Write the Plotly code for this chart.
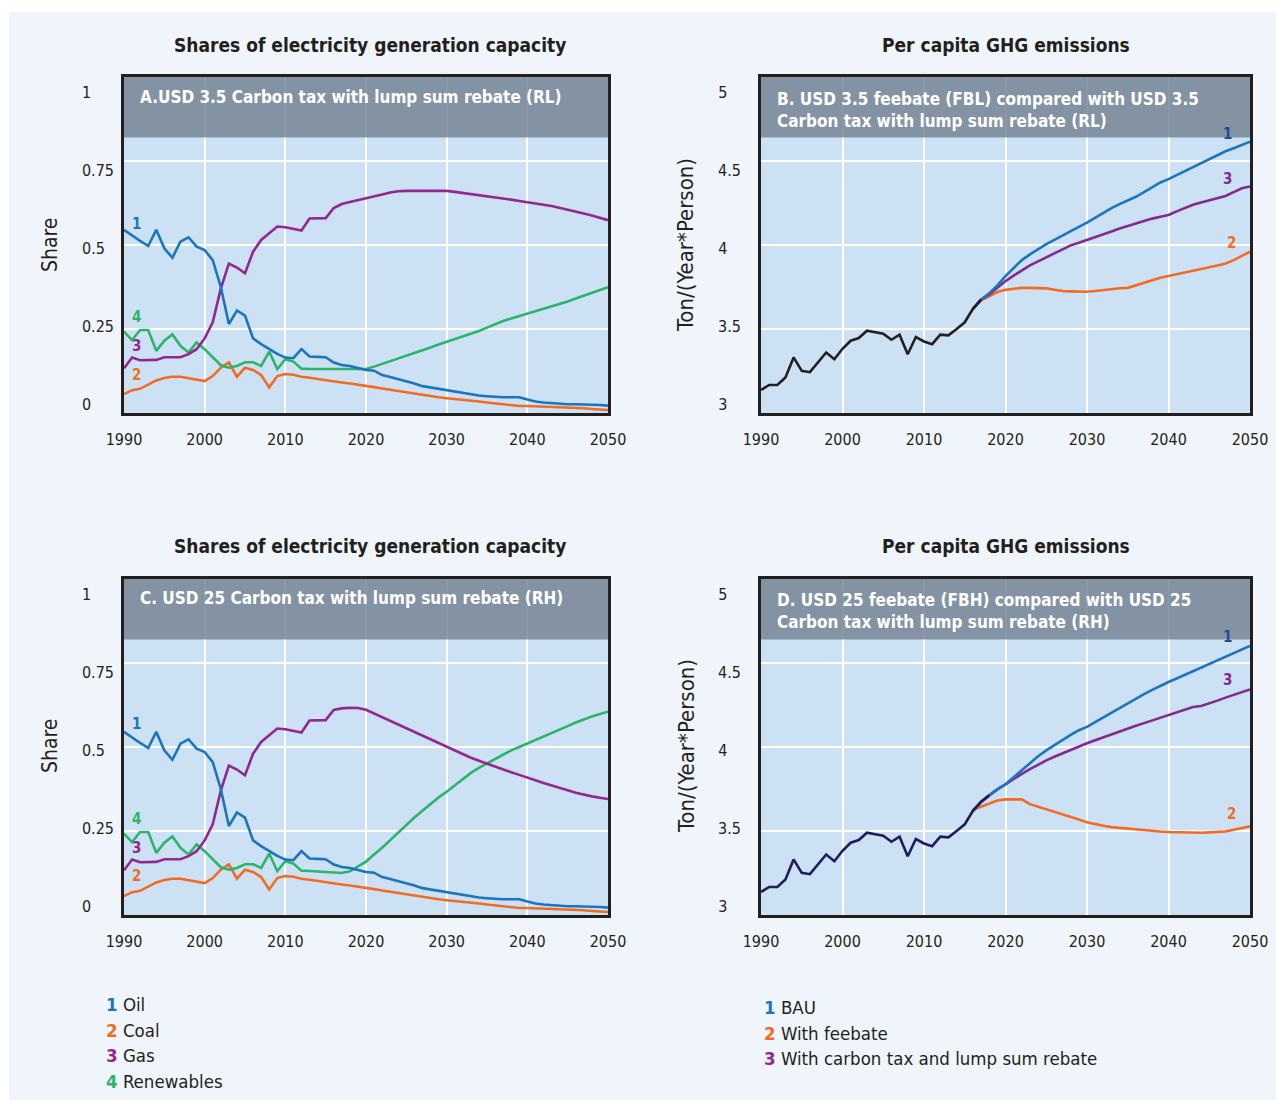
import plotly.graph_objects as go

W, H = 1276, 1100
FONT = "Liberation Sans Narrow, Arial Narrow, DejaVu Sans Condensed, sans-serif"
INK = "#231F20"

# ---------------- data ----------------
years = list(range(1990, 2051))
year_ticks = [1990, 2000, 2010, 2020, 2030, 2040, 2050]

oil_A = [0.545, 0.528, 0.512, 0.497, 0.545, 0.490, 0.462, 0.510, 0.523, 0.495,
         0.485, 0.455, 0.375, 0.265, 0.305, 0.290, 0.222, 0.205, 0.190, 0.176,
         0.165, 0.163, 0.190, 0.168, 0.167, 0.166, 0.150, 0.143, 0.140, 0.134,
         0.128, 0.126, 0.113, 0.107, 0.101, 0.095, 0.088, 0.080, 0.076, 0.072,
         0.068, 0.064, 0.059, 0.055, 0.052, 0.050, 0.048, 0.047, 0.047, 0.047,
         0.040, 0.034, 0.031, 0.029, 0.027, 0.026, 0.026, 0.026, 0.025, 0.024,
         0.022]
coal_A = [0.056, 0.068, 0.072, 0.085, 0.097, 0.104, 0.108, 0.108, 0.103, 0.098,
          0.095, 0.110, 0.135, 0.151, 0.108, 0.135, 0.128, 0.113, 0.076, 0.110,
          0.116, 0.114, 0.108, 0.105, 0.101, 0.098, 0.095, 0.091, 0.088, 0.085,
          0.081, 0.077, 0.073, 0.069, 0.065, 0.061, 0.057, 0.053, 0.050, 0.047,
          0.044, 0.042, 0.039, 0.037, 0.034, 0.031, 0.028, 0.026, 0.023, 0.021,
          0.021, 0.020, 0.020, 0.019, 0.019, 0.017, 0.016, 0.014, 0.012, 0.011,
          0.009]
gas_A = [0.133, 0.165, 0.157, 0.157, 0.158, 0.166, 0.166, 0.166, 0.175, 0.190,
         0.222, 0.270, 0.370, 0.445, 0.433, 0.416, 0.480, 0.515, 0.535, 0.555,
         0.553, 0.548, 0.543, 0.579, 0.579, 0.580, 0.610, 0.622, 0.628, 0.633,
         0.638, 0.644, 0.650, 0.656, 0.660, 0.661, 0.661, 0.661, 0.661, 0.661,
         0.661, 0.658, 0.655, 0.652, 0.649, 0.645, 0.642, 0.638, 0.635, 0.631,
         0.628, 0.624, 0.620, 0.616, 0.611, 0.606, 0.600, 0.594, 0.588, 0.581,
         0.574]
ren_A = [0.242, 0.217, 0.247, 0.247, 0.185, 0.215, 0.234, 0.200, 0.180, 0.210,
         0.190, 0.165, 0.142, 0.135, 0.140, 0.151, 0.151, 0.140, 0.183, 0.131,
         0.160, 0.153, 0.132, 0.131, 0.131, 0.131, 0.131, 0.131, 0.131, 0.131,
         0.131, 0.138, 0.146, 0.154, 0.162, 0.170, 0.177, 0.185, 0.195, 0.204,
         0.212, 0.220, 0.228, 0.235, 0.244, 0.254, 0.264, 0.274, 0.281, 0.288,
         0.295, 0.302, 0.309, 0.316, 0.323, 0.332, 0.341, 0.350, 0.358, 0.366,
         0.374]

oil_C = list(oil_A)
coal_C = list(coal_A)
gas_C = gas_A[:26] + [0.610, 0.615, 0.617, 0.616, 0.611, 0.600, 0.589, 0.578, 0.567,
                      0.556, 0.544, 0.533, 0.521, 0.510, 0.499, 0.488, 0.478, 0.468,
                      0.459, 0.450, 0.442, 0.433, 0.425, 0.417, 0.410, 0.401, 0.393,
                      0.385, 0.378, 0.371, 0.364, 0.358, 0.353, 0.349, 0.345]
ren_C = ren_A[:23] + [0.131, 0.129, 0.127, 0.126, 0.125, 0.130, 0.145, 0.159, 0.180,
                      0.200, 0.223, 0.246, 0.268, 0.290, 0.310, 0.330, 0.350, 0.367,
                      0.386, 0.405, 0.423, 0.438, 0.451, 0.465, 0.478, 0.490, 0.500,
                      0.510, 0.520, 0.531, 0.541, 0.552, 0.562, 0.573, 0.583, 0.591,
                      0.598, 0.605]

hist_years = list(range(1990, 2019))
ghg_hist = [3.137, 3.167, 3.167, 3.211, 3.331, 3.251, 3.243, 3.303, 3.360, 3.320,
            3.382, 3.430, 3.446, 3.490, 3.482, 3.472, 3.436, 3.466, 3.350, 3.452,
            3.426, 3.410, 3.466, 3.462, 3.500, 3.540, 3.620, 3.675, 3.712]

scen_years = list(range(2016, 2051))
bau_B = [3.620, 3.675, 3.712, 3.760, 3.815, 3.865, 3.910, 3.944, 3.975, 4.005,
         4.030, 4.057, 4.080, 4.108, 4.133, 4.163, 4.195, 4.220, 4.243, 4.265,
         4.287, 4.315, 4.345, 4.372, 4.392, 4.416, 4.440, 4.462, 4.487, 4.512,
         4.537, 4.558, 4.576, 4.595, 4.615]
fb_B = [3.620, 3.670, 3.695, 3.720, 3.733, 3.740, 3.745, 3.745, 3.745, 3.742,
        3.734, 3.726, 3.724, 3.722, 3.722, 3.726, 3.732, 3.738, 3.743, 3.745,
        3.760, 3.778, 3.793, 3.805, 3.815, 3.825, 3.836, 3.846, 3.856, 3.867,
        3.878, 3.890, 3.910, 3.935, 3.960]
ct_B = [3.620, 3.675, 3.705, 3.748, 3.785, 3.818, 3.850, 3.879, 3.903, 3.927,
        3.950, 3.975, 3.998, 4.014, 4.030, 4.045, 4.062, 4.080, 4.098, 4.113,
        4.128, 4.143, 4.157, 4.168, 4.179, 4.200, 4.222, 4.240, 4.253, 4.265,
        4.278, 4.292, 4.315, 4.338, 4.348]
bau_D = [3.620, 3.672, 3.712, 3.748, 3.778, 3.820, 3.860, 3.905, 3.945, 3.980,
         4.012, 4.043, 4.072, 4.100, 4.120, 4.148, 4.176, 4.205, 4.232, 4.260,
         4.290, 4.315, 4.340, 4.365, 4.387, 4.408, 4.430, 4.450, 4.470, 4.492,
         4.515, 4.538, 4.560, 4.582, 4.602]
fb_D = [3.627, 3.645, 3.665, 3.682, 3.688, 3.690, 3.688, 3.660, 3.645, 3.632,
        3.616, 3.600, 3.586, 3.568, 3.552, 3.540, 3.531, 3.523, 3.518, 3.514,
        3.510, 3.506, 3.501, 3.497, 3.494, 3.492, 3.490, 3.488, 3.490, 3.492,
        3.494, 3.497, 3.508, 3.518, 3.528]
ct_D = [3.620, 3.672, 3.712, 3.748, 3.778, 3.810, 3.840, 3.868, 3.895, 3.920,
        3.942, 3.963, 3.983, 4.003, 4.022, 4.040, 4.058, 4.076, 4.093, 4.110,
        4.126, 4.142, 4.158, 4.173, 4.188, 4.205, 4.222, 4.238, 4.244, 4.258,
        4.276, 4.294, 4.310, 4.327, 4.343]

share_ticks = [0, 0.25, 0.5, 0.75, 1]
share_text = ["0", "0.25", "0.5", "0.75", "1"]
ghg_ticks = [3, 3.5, 4, 4.5, 5]
ghg_text = ["3", "3.5", "4", "4.5", "5"]

fuel_names = ["Oil", "Coal", "Gas", "Renewables"]
scen_names = ["BAU", "With feebate", "With carbon tax and lump sum rebate"]

titles_left = "Shares of electricity generation capacity"
titles_right = "Per capita GHG emissions"
header_A = "A.USD 3.5 Carbon tax with lump sum rebate (RL)"
header_B = "B. USD 3.5 feebate (FBL) compared with USD 3.5<br>Carbon tax with lump sum rebate (RL)"
header_C = "C. USD 25 Carbon tax with lump sum rebate (RH)"
header_D = "D. USD 25 feebate (FBH) compared with USD 25<br>Carbon tax with lump sum rebate (RH)"

# ---------------- style ----------------
C_OIL, C_COAL, C_GAS, C_REN = "#1C75BC", "#F26B21", "#92278F", "#2EB36B"
C_BAU, C_FB, C_CT = "#1C75BC", "#F26B21", "#822A8E"
C_HIST_B, C_HIST_D = "#231F20", "#221A5C"
PLOT_BG = "#CCE2F4"
PAGE_BG = "#EFF5FA"
HEADER = "rgba(116,129,147,0.82)"
LW = 2.6

# pixel boxes in page coordinates (left, top, right, bottom)
boxes = {1: (124, 77, 608, 413), 2: (761, 77, 1250, 413),
         3: (124, 579, 608, 915), 4: (761, 579, 1250, 915)}
LABEL_SHIFT, LABEL_SPAN, PLOT_PX = 9, 312, 336


def px(x):
    return x / W


def py(y):
    return 1 - y / H


fig = go.Figure()


def add(x, y, color, n, width=LW):
    fig.add_trace(go.Scatter(x=x, y=y, mode="lines",
                             line=dict(color=color, width=width),
                             xaxis="x" if n == 1 else f"x{n}",
                             yaxis="y" if n == 1 else f"y{n}",
                             showlegend=False, hoverinfo="skip"))


# panel A
add(years, coal_A, C_COAL, 1)
add(years, ren_A, C_REN, 1)
add(years, gas_A, C_GAS, 1)
add(years, oil_A, C_OIL, 1)
# panel C
add(years, coal_C, C_COAL, 3)
add(years, ren_C, C_REN, 3)
add(years, gas_C, C_GAS, 3)
add(years, oil_C, C_OIL, 3)
# panel B
add(scen_years, fb_B, C_FB, 2)
add(scen_years, ct_B, C_CT, 2)
add(scen_years, bau_B, C_BAU, 2)
add(hist_years[:28], ghg_hist[:28], C_HIST_B, 2)
# panel D
add(scen_years, fb_D, C_FB, 4)
add(scen_years, ct_D, C_CT, 4)
add(scen_years, bau_D, C_BAU, 4)
add(hist_years, ghg_hist, C_HIST_D, 4)

# empty traces to host the tick-label overlay axes
for n in range(5, 9):
    base = n - 4
    fig.add_trace(go.Scatter(x=[], y=[], mode="lines", showlegend=False,
                             xaxis="x" if base == 1 else f"x{base}", yaxis=f"y{n}",
                             hoverinfo="skip"))

layout = {}
tickfont = dict(family=FONT, size=16, color=INK)
for n, (l, t, r, b) in boxes.items():
    xk = "xaxis" if n == 1 else f"xaxis{n}"
    yk = "yaxis" if n == 1 else f"yaxis{n}"
    share = n in (1, 3)
    rng = [0, 1] if share else [3, 5]
    tv = share_ticks if share else ghg_ticks
    tt = share_text if share else ghg_text
    layout[xk] = dict(domain=[px(l), px(r)], range=[1990, 2050], tickvals=year_ticks,
                      showgrid=True, gridcolor="white", gridwidth=1.5, zeroline=False,
                      showline=True, mirror=True, linecolor=INK, linewidth=2.5,
                      ticks="", tickfont=tickfont, ticklabelstandoff=10,
                      automargin=False,
                      anchor="y" if n == 1 else f"y{n}", fixedrange=True)
    layout[yk] = dict(domain=[py(b), py(t)], range=rng, tickvals=tv,
                      showticklabels=False, showgrid=True, gridcolor="white", gridwidth=1.5,
                      zeroline=False, showline=True, mirror=True, linecolor=INK,
                      linewidth=2.5, ticks="", anchor="x" if n == 1 else f"x{n}",
                      automargin=False, fixedrange=True)
    # overlay axis carrying the (slightly offset) tick labels
    span = rng[1] - rng[0]
    lo = rng[0] - span * LABEL_SHIFT / LABEL_SPAN
    hi = rng[0] + span * (PLOT_PX - LABEL_SHIFT) / LABEL_SPAN
    wmax = max(sum(2 if c.isdigit() else 1 for c in q) for q in tt)
    padded = [s + "\u00a0" * (wmax - sum(2 if c.isdigit() else 1 for c in s)) for s in tt]
    layout[f"yaxis{n + 4}"] = dict(overlaying="y" if n == 1 else f"y{n}",
                                   anchor="x" if n == 1 else f"x{n}", side="left",
                                   range=[lo, hi], tickvals=tv, ticktext=padded,
                                   showgrid=False, zeroline=False, showline=False,
                                   ticks="", tickfont=tickfont,
                                   ticklabelstandoff=9 if share else 19,
                                   automargin=False, fixedrange=True)

shapes = [
    # white page border strips (light background starts at page x=9, y=12)
    dict(type="rect", xref="paper", yref="paper", x0=0, x1=1, y0=py(12), y1=1,
         fillcolor="white", line=dict(width=0), layer="below"),
    dict(type="rect", xref="paper", yref="paper", x0=0, x1=px(9), y0=0, y1=1,
         fillcolor="white", line=dict(width=0), layer="below"),
]
for n in boxes:
    sfx = "" if n == 1 else str(n)
    shapes.append(dict(type="rect", xref=f"x{sfx} domain", yref=f"y{sfx} domain",
                       x0=0, x1=1, y0=0.82, y1=1, fillcolor=HEADER,
                       line=dict(width=0), layer="above"))

ann = []


def text(x, y, s, size, bold=False, color=INK, xanchor="center", yanchor="middle",
         angle=0, align="left"):
    ann.append(dict(xref="paper", yref="paper", x=px(x), y=py(y),
                    text=f"<b>{s}</b>" if bold else s, showarrow=False,
                    font=dict(family=FONT, size=size, color=color),
                    xanchor=xanchor, yanchor=yanchor, textangle=angle, align=align))


# titles
text(370, 45, titles_left, 19, bold=True)
text(1006, 45, titles_right, 19, bold=True)
text(370, 546, titles_left, 19, bold=True)
text(1006, 546, titles_right, 19, bold=True)
# axis titles
text(50, 245, "Share", 21, angle=-90)
text(50, 746, "Share", 21, angle=-90)
text(686, 245, "Ton/(Year*Person)", 22, angle=-90)
text(686, 746, "Ton/(Year*Person)", 22, angle=-90)
# header texts
text(138, 97, header_A, 17, bold=True, color="white", xanchor="left")
text(775, 109.5, header_B, 17, bold=True, color="white", xanchor="left")
text(138, 598, header_C, 17, bold=True, color="white", xanchor="left")
text(775, 610.5, header_D, 17, bold=True, color="white", xanchor="left")

# line number labels (data coordinates)
line_labels = [
    (1, 1991.6, 0.5625, "1", C_OIL), (1, 1991.6, 0.286, "4", C_REN),
    (1, 1991.6, 0.199, "3", C_GAS), (1, 1991.6, 0.113, "2", C_COAL),
    (3, 1991.6, 0.567, "1", C_OIL), (3, 1991.6, 0.287, "4", C_REN),
    (3, 1991.6, 0.199, "3", C_GAS), (3, 1991.6, 0.116, "2", C_COAL),
    (2, 2047.2, 4.661, "1", "#1F4F8F"), (2, 2047.3, 4.392, "3", C_CT),
    (2, 2047.7, 4.014, "2", C_FB),
    (4, 2047.2, 4.655, "1", "#1F4F8F"), (4, 2047.3, 4.400, "3", C_CT),
    (4, 2047.7, 3.603, "2", C_FB),
]
for n, x, y, s, c in line_labels:
    sfx = "" if n == 1 else str(n)
    ann.append(dict(xref=f"x{sfx}", yref=f"y{sfx}", x=x, y=y, text=f"<b>{s}</b>",
                    showarrow=False, font=dict(family=FONT, size=15, color=c)))

# legends
fuel_cols = [C_OIL, C_COAL, C_GAS, C_REN]
for i, (nm, c) in enumerate(zip(fuel_names, fuel_cols)):
    yy = [1004, 1030, 1055, 1081][i]
    text(104, yy, f"<b><span style='color:{c}'>{i + 1}</span></b> {nm}", 18.5,
         xanchor="left")
scen_cols = [C_BAU, C_FB, C_GAS]
for i, (nm, c) in enumerate(zip(scen_names, scen_cols)):
    yy = [1007, 1033, 1058][i]
    text(762, yy, f"<b><span style='color:{c}'>{i + 1}</span></b> {nm}", 18.5,
         xanchor="left")

fig.update_layout(
    width=W, height=H,
    margin=dict(l=0, r=0, t=0, b=0, pad=0, autoexpand=False),
    paper_bgcolor=PAGE_BG, plot_bgcolor=PLOT_BG,
    font=dict(family=FONT, color=INK), showlegend=False, hovermode=False,
    shapes=shapes, annotations=ann, **layout,
)

fig.write_html("out.html", config={"displayModeBar": False, "responsive": False},
               post_script="document.body.style.margin='0';")
